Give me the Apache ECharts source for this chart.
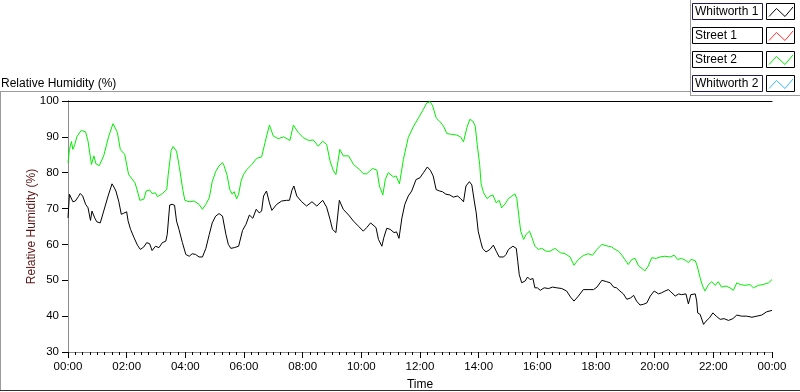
<!DOCTYPE html>
<html>
<head>
<meta charset="utf-8">
<script src="https://cdn.jsdelivr.net/npm/echarts@6/dist/echarts.min.js"></script>
<style>
  html, body { margin: 0; padding: 0; background: #fff; }
  #humidity { width: 800px; height: 392px; }
</style>
</head>
<body>
<div id="humidity"></div>
<script>
// minutes since midnight -> relative humidity (%)
var whitworth1Time = [0, 3, 7, 10, 15, 21, 25, 30, 36, 41, 46, 49, 53, 55, 59, 66, 73, 82, 90, 94, 98, 104, 109, 114, 120, 123, 128, 135, 142, 148, 155, 161, 167, 172, 179, 186, 193, 200, 203, 208, 213, 218, 222, 227, 234, 241, 248, 254, 261, 268, 275, 282, 289, 295, 302, 309, 316, 323, 328, 333, 340, 349,
  357, 364, 371, 378, 385, 391, 396, 400, 406, 412, 417, 427, 437, 447, 453, 458, 462, 468, 478, 488, 499, 509, 521, 529, 536, 541, 548, 555, 563, 574, 584, 594, 604, 611, 619, 630, 635, 642, 646, 652, 659, 667, 672, 677, 683, 689, 696, 703, 712, 720,
  727, 735, 741, 747, 753, 760, 766, 773, 781, 788, 797, 803, 809, 814, 821, 826, 831, 835, 839, 844, 848, 855, 863, 870, 876, 882, 891, 896, 901, 910, 917, 920, 923, 928, 935, 940, 945, 951, 955, 960, 966, 974, 983, 991, 1000, 1010, 1020, 1028, 1035, 1044, 1054, 1064, 1075, 1082, 1092,
  1102, 1109, 1116, 1122, 1129, 1136, 1143, 1151, 1157, 1163, 1170, 1177, 1184, 1191, 1199, 1208, 1214, 1221, 1228, 1233, 1242, 1249, 1255, 1264, 1269, 1274, 1283, 1286, 1288, 1293, 1300, 1305, 1312, 1319, 1326, 1334, 1342, 1351, 1360, 1368, 1378, 1388, 1399, 1409, 1419, 1429, 1440];
var whitworth1 = [67.4, 74, 73.5, 71.9, 72.1, 73.3, 74.2, 73.5, 71.2, 70.2, 66.7, 69.3, 69.5, 67.3, 66.3, 66, 69.3, 73.5, 76.9, 76, 74.9, 71.9, 68.4, 68.7, 69.1, 66.5, 64.2, 61.9, 59.8, 58.6, 59.3, 60.5, 60.2, 58.3, 59.5, 59.1, 60.5, 60.9, 62.8, 71, 71.2, 70.9, 66.5, 64.2, 60.5, 57.2, 56.7, 57.4, 57.2, 56.5, 56.5, 58.9, 62.8, 66, 67.9, 68.6, 67.9, 62.8, 60, 58.9, 59.1, 59.5,
  63.9, 65.6, 68.2, 67.3, 69.8, 68.8, 69.3, 73.5, 74.9, 71.6, 69.5, 71.2, 72.1, 72.3, 72.3, 75.1, 76.3, 73.5, 71.9, 70.7, 71.9, 70.7, 72.3, 70.4, 67, 64.2, 63.3, 72.3, 69.8, 68.2, 66.5, 65.1, 63.7, 64.7, 66, 64.7, 61.4, 59.5, 61.9, 64.5, 64.2, 63.3, 63.5, 61.7, 67.4, 71.2, 73.5, 74.9, 78.1, 78.6,
  80, 81.6, 80.7, 79.1, 75.3, 74.9, 74.7, 74, 73.8, 73.2, 73.5, 72.8, 71.9, 76.3, 77.5, 76.6, 72.1, 68.8, 63.7, 60.9, 58.9, 57.9, 58.6, 59.8, 58.1, 56.5, 56.5, 57.2, 58.6, 59.5, 58.9, 55.3, 51.6, 49.3, 49.8, 50.9, 50.2, 50.5, 47.9, 47.9, 47.2, 47.9, 47.7, 48.1, 47.9, 47.7, 47, 45.3, 44.2, 45.6, 47.4, 47.4, 47.4, 48.1, 50,
  49.6, 49.3, 48.1, 47.9, 47, 46.2, 44.7, 45.1, 45.8, 44.2, 43.1, 43.3, 43.7, 45.6, 47, 46.2, 46.5, 47, 47.4, 46.8, 45.6, 46.2, 46, 46.2, 43.4, 46, 46.2, 44.2, 40.9, 40.5, 37.7, 38.6, 39.5, 40.9, 40, 39.1, 39.3, 38.8, 39.3, 40.3, 40, 40, 39.7, 40, 40.3, 41.2, 41.6];

var street2Time = [0, 3, 7, 10, 14, 18, 27, 36, 41, 48, 53, 57, 64, 73, 83, 92, 96, 101, 107, 116, 124, 137, 142, 147, 155, 160, 167, 172, 179, 183, 193, 202, 205, 211, 215, 222, 228, 235, 239, 248, 258, 268, 275, 282, 289, 295, 302, 309, 316, 319, 325, 331, 336, 340, 345, 349, 354,
  359, 366, 376, 386, 396, 403, 412, 420, 430, 441, 454, 461, 471, 481, 492, 502, 512, 521, 529, 536, 543, 548, 556, 563, 574, 584, 596, 604, 611, 623, 632, 637, 644, 649, 655, 666, 671, 678, 686, 696, 707, 717, 727,
  734, 741, 746, 753, 761, 768, 775, 785, 795, 803, 809, 816, 822, 828, 833, 837, 842, 845, 850, 857, 863, 869, 876, 882, 887, 894, 901, 908, 914, 918, 923, 926, 932, 937, 944, 949, 955, 962, 969, 978, 986, 996, 1007, 1017, 1027, 1035, 1044, 1054, 1064, 1073, 1082, 1092,
  1105, 1112, 1119, 1126, 1133, 1139, 1146, 1153, 1160, 1167, 1174, 1180, 1187, 1194, 1203, 1211, 1221, 1232, 1240, 1247, 1255, 1264, 1269, 1274, 1283, 1287, 1293, 1298, 1303, 1310, 1317, 1324, 1330, 1337, 1346, 1354, 1361, 1368, 1375, 1385, 1395, 1402, 1412, 1422, 1433, 1440];
var street2 = [82.8, 86.5, 88.7, 86.5, 87.9, 90, 91.8, 91.4, 88.8, 82.3, 84.7, 82.5, 82, 84.7, 90, 93.7, 93.3, 91.2, 86.5, 85.1, 79.5, 77.2, 74.9, 72.3, 72.6, 74.9, 75.2, 74.2, 74.4, 73.3, 74.2, 75.3, 79.5, 86.2, 87.3, 86, 81.4, 75.1, 72.3, 71.9, 72.1, 71.2, 69.8, 71.2, 73, 77.5, 80.3, 81.9, 82.8, 82, 79.5, 75.3, 74, 74.7, 72.7, 74, 77.7,
  79.5, 80.9, 82.3, 84, 84.4, 88.4, 93.3, 90.2, 89.5, 90, 89, 93.3, 91.2, 89.8, 89, 89.1, 87.4, 88.8, 87.9, 83.3, 80.5, 79.5, 86.5, 84.7, 84.7, 82.3, 80.9, 79.7, 79.7, 81.2, 80.7, 76.3, 73.8, 78.1, 80, 78.8, 79.1, 76.9, 83.7, 89.8, 93, 95.3, 97.7,
  99.5, 99.8, 98.6, 95.3, 94.2, 93, 90.9, 90.7, 90.5, 90, 88.6, 92.6, 94.9, 94.4, 93, 87.9, 82.3, 76.9, 74.4, 72.8, 73.5, 73.8, 71.6, 72.3, 70.2, 71.3, 72.8, 73.5, 74.1, 72.8, 67, 63.7, 61.4, 62.8, 63.7, 61.9, 59.5, 58.6, 58.9, 58.1, 58.1, 58.9, 57.7, 57.4, 56.5, 54.2, 55.8, 56.9, 57.4, 57, 58.6, 60,
  59.5, 59.3, 58.6, 58.1, 57, 55.8, 54.4, 55.8, 56.1, 54, 53.3, 52.6, 54, 56.3, 56.1, 56.5, 56.7, 56.5, 57, 55.8, 56.1, 55.5, 54.9, 55.8, 55.5, 54, 50.7, 48.4, 47, 48.8, 49.6, 48.6, 49.6, 48.1, 48.4, 47.9, 47.2, 49.3, 48.8, 48.6, 48.8, 47.9, 48.6, 48.8, 49.3, 50.2];

var plotNames = ['Whitworth 1', 'Street 1', 'Street 2', 'Whitworth 2'];
var plotColors = ['#000000', '#ff3030', '#00ee00', '#33bbff'];

function pairs(t, v) {
  return t.map(function (m, i) { return [m, v[i]]; });
}

function clock(v) {
  var h = Math.floor(v / 60) % 24;
  var m = v % 60;
  return (h < 10 ? '0' : '') + h + ':' + (m < 10 ? '0' : '') + m;
}

var font = '"Liberation Sans", Arial, sans-serif';

// LabVIEW style legend: name box + sample box
var legendGraphics = [];
plotNames.forEach(function (name, i) {
  var top = 3.5 + i * 24;
  legendGraphics.push({
    type: 'rect',
    shape: { x: 692.5, y: top, width: 70, height: 16 },
    style: { fill: '#fff', stroke: (i === 0 || i === 3) ? '#1c1c50' : '#000', lineWidth: 1 }
  });
  legendGraphics.push({
    type: 'text',
    x: 695, y: top + 8,
    style: { text: name, fill: '#000', font: '12px ' + font, verticalAlign: 'middle' }
  });
  legendGraphics.push({
    type: 'rect',
    shape: { x: 766.5, y: top, width: 28, height: 16 },
    style: { fill: '#fff', stroke: '#000', lineWidth: 1 }
  });
  legendGraphics.push({
    type: 'polyline',
    shape: { points: [[769, top + 13], [776.5, top + 5], [785, top + 13], [793, top + 3.5]] },
    style: { stroke: plotColors[i], lineWidth: 1, fill: null }
  });
});

var frameLines = [
  { x1: 0, y1: 91.5, x2: 690, y2: 91.5, c: '#9a9a9a' },
  { x1: 690.5, y1: 0, x2: 690.5, y2: 95, c: '#9a9a9a' },
  { x1: 690, y1: 95.5, x2: 800, y2: 95.5, c: '#9a9a9a' },
  { x1: 0.5, y1: 91, x2: 0.5, y2: 391, c: '#9a9a9a' },
  { x1: 0, y1: 390.5, x2: 800, y2: 390.5, c: '#303030' }
].map(function (l) {
  return { type: 'line', shape: { x1: l.x1, y1: l.y1, x2: l.x2, y2: l.y2 }, style: { stroke: l.c, lineWidth: 1 } };
});

var myChart = echarts.init(document.getElementById('humidity'));

myChart.setOption({
  animation: false,
  backgroundColor: '#fff',
  title: {
    text: 'Relative Humidity (%)',
    left: 1,
    top: 78,
    padding: 0,
    textStyle: { fontSize: 12, fontWeight: 'normal', color: '#000', fontFamily: font }
  },
  grid: {
    left: 68,
    top: 101,
    width: 704,
    height: 251,
    containLabel: false,
    outerBoundsMode: 'none'
  },
  xAxis: [
    {
      type: 'value',
      min: 0,
      max: 1440,
      interval: 120,
      position: 'bottom',
      name: 'Time',
      nameLocation: 'middle',
      nameGap: 27,
      nameMoveOverlap: false,
      nameTextStyle: { fontSize: 12, color: '#000', fontFamily: font },
      axisLine: { show: true, lineStyle: { color: '#8a8a8a' } },
      axisTick: { show: true, length: 6, lineStyle: { color: '#000' } },
      minorTick: { show: true, splitNumber: 8, length: 3, lineStyle: { color: '#000' } },
      splitLine: { show: false },
      axisLabel: {
        margin: 9,
        fontSize: 11.5,
        color: '#000',
        fontFamily: font,
        formatter: clock
      }
    },
    {
      type: 'value',
      min: 0,
      max: 1440,
      position: 'top',
      axisLine: { show: true, lineStyle: { color: '#000' } },
      axisTick: { show: false },
      axisLabel: { show: false },
      splitLine: { show: false }
    }
  ],
  yAxis: [
    {
      type: 'value',
      min: 30,
      max: 100,
      interval: 10,
      name: 'Relative Humidity (%)',
      nameLocation: 'middle',
      nameGap: 30,
      nameMoveOverlap: false,
      nameTextStyle: { fontSize: 12, color: '#5e1414', fontFamily: font },
      axisLine: { show: true, lineStyle: { color: '#000' } },
      axisTick: { show: true, length: 6, lineStyle: { color: '#000' } },
      splitLine: { show: false },
      axisLabel: { margin: 9, fontSize: 11.5, color: '#000', fontFamily: font }
    },
    {
      type: 'value',
      min: 30,
      max: 100,
      position: 'right',
      axisLine: { show: true, lineStyle: { color: '#8a8a8a' } },
      axisTick: { show: false },
      axisLabel: { show: false },
      splitLine: { show: false }
    }
  ],
  graphic: frameLines.concat(legendGraphics),
  series: [
    {
      name: plotNames[0],
      type: 'line',
      showSymbol: false,
      lineStyle: { color: plotColors[0], width: 1 },
      data: pairs(whitworth1Time, whitworth1)
    },
    {
      name: plotNames[1],
      type: 'line',
      showSymbol: false,
      lineStyle: { color: plotColors[1], width: 1 },
      data: []
    },
    {
      name: plotNames[2],
      type: 'line',
      showSymbol: false,
      lineStyle: { color: plotColors[2], width: 1 },
      data: pairs(street2Time, street2)
    },
    {
      name: plotNames[3],
      type: 'line',
      showSymbol: false,
      lineStyle: { color: plotColors[3], width: 1 },
      data: []
    }
  ]
});
</script>
</body>
</html>
